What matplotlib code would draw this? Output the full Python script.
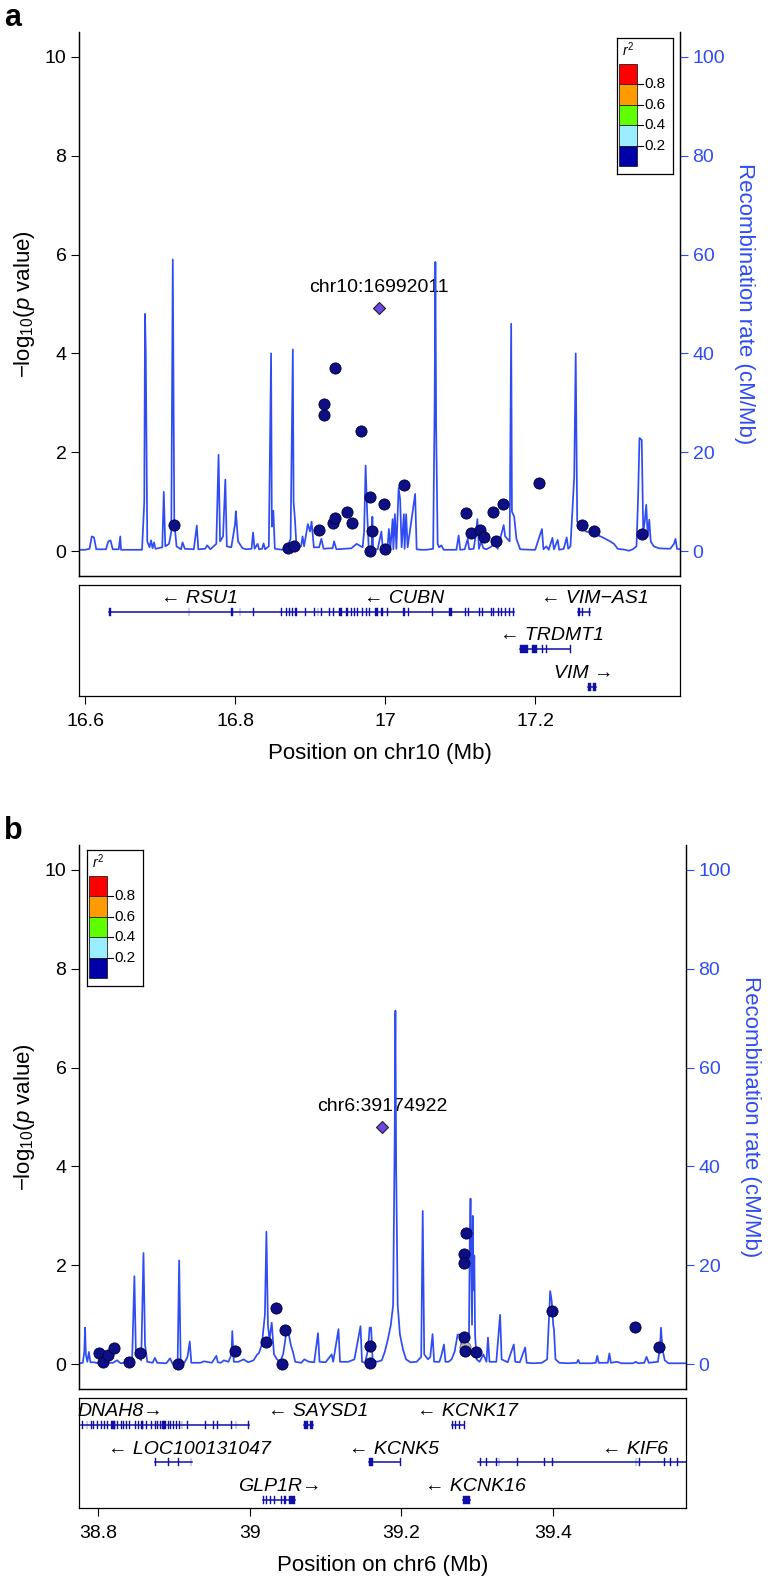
import matplotlib
matplotlib.use('Agg')
import matplotlib.pyplot as plt

plt.rcParams['font.family'] = ['Liberation Sans', 'DejaVu Sans']
plt.rcParams['mathtext.fontset'] = 'custom'
plt.rcParams['mathtext.rm'] = 'Liberation Sans'
plt.rcParams['mathtext.it'] = 'Liberation Sans:italic'

W, H = 776, 1587
REC_BLUE = '#2F4CF2'
GENE_BLUE = '#1010A8'
POINT_BLUE = '#0F0F85'
LEAD_PURPLE = '#6E46E4'

# ---------------- panel a : chr10 ----------------
rec_a_pos = [16.592, 16.600, 16.606, 16.609, 16.612, 16.615, 16.628, 16.631, 16.634, 16.637,
             16.645, 16.647, 16.648, 16.676, 16.679, 16.680, 16.681, 16.683, 16.686, 16.688,
             16.690, 16.692, 16.694, 16.703, 16.705, 16.707, 16.712, 16.715, 16.717, 16.719,
             16.722, 16.728, 16.730, 16.733, 16.745, 16.749, 16.751, 16.760, 16.763, 16.767,
             16.775, 16.778, 16.780, 16.784, 16.787, 16.789, 16.795, 16.800, 16.801, 16.804,
             16.810, 16.815, 16.822, 16.824, 16.826, 16.830, 16.832, 16.836, 16.838, 16.840,
             16.845, 16.848, 16.849, 16.851, 16.853, 16.863, 16.870, 16.874, 16.877, 16.878,
             16.880, 16.882, 16.888, 16.890, 16.892, 16.897, 16.900, 16.902, 16.905, 16.912,
             16.915, 16.918, 16.925, 16.930, 16.932, 16.935, 16.945, 16.955, 16.962, 16.970,
             16.972, 16.974, 16.976, 16.978, 16.982, 16.983, 16.984, 16.990, 16.995, 16.997,
             17.003, 17.005, 17.007, 17.010, 17.011, 17.013, 17.015, 17.018, 17.020, 17.022,
             17.025, 17.026, 17.028, 17.030, 17.040, 17.042, 17.048, 17.055, 17.064, 17.066,
             17.067, 17.068, 17.070, 17.072, 17.075, 17.078, 17.095, 17.098, 17.100, 17.106,
             17.110, 17.112, 17.118, 17.121, 17.123, 17.125, 17.128, 17.131, 17.135, 17.140,
             17.146, 17.150, 17.158, 17.160, 17.166, 17.168, 17.169, 17.172, 17.175, 17.180,
             17.195, 17.200, 17.209, 17.211, 17.215, 17.218, 17.223, 17.225, 17.230, 17.232,
             17.238, 17.242, 17.244, 17.247, 17.252, 17.254, 17.256, 17.260, 17.263, 17.268,
             17.280, 17.290, 17.300, 17.305, 17.310, 17.320, 17.325, 17.330, 17.335, 17.337,
             17.339, 17.342, 17.344, 17.346, 17.348, 17.350, 17.352, 17.354, 17.358, 17.365,
             17.380, 17.385, 17.387, 17.389, 17.393]
rec_a_rate = [0.3, 0.3, 0.5, 3.0, 2.8, 0.4, 0.4, 2.0, 2.2, 0.4,
              0.4, 3.0, 0.3, 0.3, 10.0, 48.0, 40.0, 2.0, 0.8, 2.2,
              0.6, 1.8, 0.5, 0.8, 12.0, 1.0, 1.5, 4.0, 59.0, 6.0,
              1.0, 0.4, 1.8, 0.5, 0.4, 5.2, 0.4, 0.5, 1.2, 0.4,
              1.5, 19.5, 2.0, 3.0, 14.5, 1.0, 0.8, 5.5, 8.1, 2.0,
              0.6, 0.4, 0.5, 3.8, 0.5, 1.5, 0.4, 0.5, 1.6, 0.4,
              1.0, 40.0, 5.0, 8.2, 0.5, 0.3, 1.0, 2.5, 40.8, 10.0,
              6.0, 0.5, 1.0, 3.0, 1.0, 5.5, 4.0, 6.0, 0.8, 0.8,
              2.5, 0.5, 0.6, 0.6, 2.0, 0.4, 0.5, 0.6, 1.5, 0.8,
              4.0, 17.3, 8.0, 1.0, 0.6, 7.0, 0.4, 0.4, 4.0, 0.4,
              0.5, 4.5, 0.5, 6.5, 0.4, 7.5, 0.5, 12.8, 10.5, 0.8,
              7.5, 0.5, 7.5, 0.8, 11.6, 0.4, 0.3, 0.3, 0.5, 30.0,
              58.5, 25.0, 1.5, 0.8, 1.2, 0.3, 0.3, 3.2, 0.3, 0.4,
              2.5, 0.4, 0.5, 3.5, 6.5, 0.5, 2.0, 0.6, 0.4, 0.8,
              1.5, 0.5, 5.3, 3.0, 2.0, 46.0, 8.0, 7.0, 2.5, 0.4,
              0.3, 0.3, 4.5, 0.4, 1.0, 0.3, 2.7, 0.4, 2.3, 0.3,
              0.5, 2.8, 0.5, 1.0, 15.0, 40.0, 6.0, 5.5, 4.5, 4.0,
              3.5, 2.8, 2.0, 1.5, 0.5, 0.3, 0.1, 0.4, 1.0, 10.0,
              22.9, 22.5, 4.0, 6.0, 9.4, 3.0, 6.4, 2.0, 1.0, 0.6,
              0.5, 1.5, 2.5, 0.5, 0.4]

snp_a_pos = [16.719, 16.870, 16.878, 16.912, 16.919, 16.919, 16.930, 16.933, 16.933, 16.949,
             16.956, 16.968, 16.980, 16.982, 16.980, 16.998, 17.000, 17.025, 17.108, 17.114,
             17.127, 17.132, 17.144, 17.148, 17.157, 17.205, 17.262, 17.278, 17.343]
snp_a_p = [0.54, 0.07, 0.10, 0.44, 2.98, 2.75, 0.57, 3.70, 0.67, 0.80,
           0.57, 2.44, 1.09, 0.41, 0.0, 0.96, 0.05, 1.33, 0.77, 0.37,
           0.44, 0.29, 0.79, 0.21, 0.95, 1.38, 0.53, 0.42, 0.34]
lead_a = (16.992, 4.92, 'chr10:16992011')

genes_a_label = ['\u2190 RSU1', '\u2190 CUBN', '\u2190 VIM\u2212AS1', '\u2190 TRDMT1', 'VIM \u2192']
genes_a_label_x = [16.752, 17.025, 17.279, 17.222, 17.265]
genes_a_row = [0, 0, 0, 1, 2]
genes_a_start = [16.632, 16.861, 17.257, 17.180, 17.271]
genes_a_end = [16.861, 17.172, 17.273, 17.246, 17.281]
genes_a_exons = [
    [(16.632, 16.634), (16.738, 16.738), (16.795, 16.797), (16.806, 16.806), (16.824, 16.824)],
    [(16.861, 16.861), (16.868, 16.869), (16.872, 16.872), (16.876, 16.876), (16.880, 16.882),
     (16.893, 16.893), (16.905, 16.905), (16.910, 16.910), (16.915, 16.915), (16.925, 16.926),
     (16.931, 16.931), (16.938, 16.943), (16.948, 16.950), (16.955, 16.955), (16.958, 16.958),
     (16.963, 16.964), (16.969, 16.969), (16.975, 16.976), (16.979, 16.979), (16.987, 16.991),
     (16.994, 16.997), (17.002, 17.002), (17.024, 17.026), (17.030, 17.030), (17.062, 17.062),
     (17.085, 17.089), (17.106, 17.106), (17.111, 17.111), (17.125, 17.125), (17.129, 17.130),
     (17.141, 17.141), (17.144, 17.145), (17.150, 17.150), (17.155, 17.156), (17.160, 17.160),
     (17.165, 17.165), (17.171, 17.172)],
    [(17.257, 17.260), (17.262, 17.263), (17.272, 17.273)],
    [(17.180, 17.190), (17.196, 17.203), (17.209, 17.209), (17.215, 17.215), (17.246, 17.246)],
    [(17.271, 17.275), (17.277, 17.281)],
]

# ---------------- panel b : chr6 ----------------
rec_b_pos = [38.775, 38.780, 38.782, 38.783, 38.784, 38.786, 38.788, 38.790, 38.795, 38.800,
             38.812, 38.820, 38.825, 38.830, 38.838, 38.845, 38.848, 38.850, 38.857, 38.860,
             38.862, 38.865, 38.872, 38.875, 38.878, 38.890, 38.895, 38.898, 38.905, 38.907,
             38.909, 38.914, 38.918, 38.921, 38.923, 38.935, 38.940, 38.950, 38.956, 38.958,
             38.962, 38.966, 38.972, 38.976, 38.977, 38.979, 38.985, 38.992, 38.998, 39.005,
             39.010, 39.012, 39.016, 39.020, 39.022, 39.024, 39.026, 39.029, 39.032, 39.036,
             39.040, 39.044, 39.046, 39.049, 39.051, 39.054, 39.057, 39.060, 39.068, 39.072,
             39.078, 39.085, 39.090, 39.092, 39.100, 39.108, 39.110, 39.117, 39.119, 39.125,
             39.130, 39.138, 39.146, 39.148, 39.152, 39.156, 39.158, 39.160, 39.162, 39.168,
             39.174, 39.178, 39.182, 39.186, 39.189, 39.191, 39.192, 39.193, 39.195, 39.198,
             39.202, 39.206, 39.212, 39.220, 39.226, 39.228, 39.230, 39.235, 39.238, 39.241,
             39.243, 39.250, 39.253, 39.256, 39.258, 39.262, 39.266, 39.270, 39.274, 39.277,
             39.280, 39.283, 39.286, 39.289, 39.290, 39.291, 39.292, 39.293, 39.294, 39.295,
             39.296, 39.297, 39.299, 39.303, 39.308, 39.312, 39.314, 39.316, 39.325, 39.330,
             39.332, 39.340, 39.348, 39.350, 39.356, 39.363, 39.365, 39.375, 39.385, 39.392,
             39.396, 39.398, 39.400, 39.401, 39.403, 39.408, 39.420, 39.431, 39.433, 39.435,
             39.450, 39.456, 39.458, 39.460, 39.472, 39.474, 39.476, 39.484, 39.490, 39.505,
             39.509, 39.512, 39.520, 39.523, 39.526, 39.538, 39.541, 39.542, 39.544, 39.547,
             39.552, 39.575]
rec_b_rate = [0.2, 0.3, 2.5, 7.4, 2.0, 0.5, 2.5, 0.4, 0.4, 0.2,
              0.3, 0.3, 0.8, 0.2, 0.4, 0.8, 17.8, 2.0, 0.8, 22.5,
              4.0, 0.5, 0.3, 1.3, 0.3, 0.2, 1.2, 0.2, 0.2, 21.0,
              0.5, 0.3, 1.5, 4.6, 0.3, 0.3, 0.6, 0.3, 1.7, 0.4,
              0.3, 0.8, 0.5, 2.0, 6.7, 0.5, 0.5, 1.0, 0.4, 0.8,
              2.0, 2.2, 4.0, 10.0, 26.8, 8.0, 5.0, 8.4, 2.0, 1.0,
              0.5, 2.0, 4.0, 7.4, 6.5, 4.0, 2.5, 0.5, 0.3, 1.0,
              0.5, 0.4, 6.3, 0.5, 0.4, 2.0, 0.5, 7.1, 0.5, 0.5,
              0.5, 1.0, 7.7, 0.5, 0.3, 3.0, 7.4, 7.4, 0.8, 0.5,
              0.8, 2.5, 5.0, 8.0, 12.0, 45.0, 71.5, 40.0, 12.0, 6.0,
              3.0, 1.0, 0.4, 0.5, 1.5, 31.0, 2.0, 1.0, 1.5, 6.1,
              0.5, 0.5, 2.0, 4.0, 0.5, 0.5, 1.0, 2.5, 6.0, 6.0,
              3.0, 4.0, 2.0, 6.0, 25.0, 33.5, 20.0, 8.0, 30.0, 15.0,
              22.0, 6.0, 1.0, 0.5, 2.0, 0.5, 5.4, 0.5, 0.5, 10.0,
              1.0, 0.4, 4.0, 0.5, 0.4, 3.4, 0.3, 0.2, 0.3, 1.0,
              14.8, 12.8, 8.0, 7.0, 1.0, 0.3, 0.2, 0.3, 0.9, 0.2,
              0.2, 0.3, 1.7, 0.3, 0.3, 2.2, 0.3, 0.5, 0.2, 0.2,
              0.5, 0.2, 0.3, 1.5, 0.3, 0.5, 4.0, 7.4, 3.0, 0.8,
              0.2, 0.2]

snp_b_pos = [38.801, 38.806, 38.813, 38.821, 38.841, 38.855, 38.906, 38.980, 39.021, 39.035,
             39.046, 39.042, 39.159, 39.159, 39.285, 39.282, 39.283, 39.282, 39.284, 39.298,
             39.399, 39.508, 39.539]
snp_b_p = [0.22, 0.05, 0.18, 0.32, 0.05, 0.22, 0.0, 0.26, 0.45, 1.14,
           0.69, 0.0, 0.36, 0.03, 2.65, 2.22, 2.05, 0.56, 0.26, 0.24,
           1.08, 0.76, 0.35]
grey_b_pos = [39.284]
grey_b_p = [0.35]
lead_b = (39.175, 4.80, 'chr6:39174922')

genes_b_label = ['DNAH8\u2192', '\u2190 SAYSD1', '\u2190 KCNK17', '\u2190 LOC100131047',
                 '\u2190 KCNK5', '\u2190 KIF6', 'GLP1R\u2192', '\u2190 KCNK16']
genes_b_label_x = [38.830, 39.090, 39.287, 38.920, 39.190, 39.508, 39.040, 39.298]
genes_b_row = [0, 0, 0, 1, 1, 1, 2, 2]
genes_b_start = [38.777, 39.072, 39.266, 38.875, 39.157, 39.301, 39.017, 39.281]
genes_b_end = [38.999, 39.084, 39.283, 38.924, 39.198, 39.600, 39.060, 39.290]
dnah8_ex = [38.7795, 38.7850, 38.7903, 38.7940, 38.7983, 38.8037, 38.8080, 38.8118, 38.8172,
            38.8209, 38.8252, 38.8306, 38.8333, 38.8371, 38.8414, 38.8494, 38.8532, 38.8575,
            38.8629, 38.8694, 38.8747, 38.8780, 38.8817, 38.8855, 38.8887, 38.8925, 38.8951,
            38.8994, 38.9032, 38.9070, 38.9102, 38.9178, 38.9409, 38.9517, 38.9571, 38.9759,
            38.9813, 38.9974]
genes_b_exons = [
    [(p, p) for p in dnah8_ex] + [(38.818, 38.822), (38.857, 38.860), (38.884, 38.889)],
    [(39.072, 39.077), (39.079, 39.084)],
    [(39.2665, 39.2665), (39.2708, 39.2708), (39.2762, 39.2762), (39.2827, 39.2827)],
    [(38.8747, 38.8747), (38.8925, 38.8940), (38.906, 38.906), (38.922, 38.922)],
    [(39.157, 39.162), (39.198, 39.198)],
    [(39.3031, 39.3031), (39.3110, 39.3125), (39.3247, 39.3247), (39.3280, 39.3285),
     (39.3525, 39.3525), (39.3874, 39.3874), (39.3982, 39.3982), (39.5085, 39.5085),
     (39.5128, 39.5128), (39.5462, 39.5462), (39.5543, 39.5543), (39.5634, 39.5634)],
    [(39.0174, 39.0174), (39.0219, 39.0219), (39.0273, 39.0273), (39.0326, 39.0326),
     (39.0407, 39.0407), (39.0449, 39.0480), (39.0520, 39.0594)],
    [(39.2816, 39.2897)],
]

r2_colors = ['#FF0000', '#FF9B00', '#5FFF00', '#9BEEFF', '#0000A8']
r2_ticks = [0.8, 0.6, 0.4, 0.2]


def box(l, t, r, b):
    return [l / W, 1 - b / H, (r - l) / W, (b - t) / H]


def draw_legend(rect):
    lg = fig.add_axes(box(*rect))
    lg.set_xlim(0, 56)
    lg.set_ylim(136, 0)
    lg.set_xticks([])
    lg.set_yticks([])
    for s in lg.spines.values():
        s.set_linewidth(0.9)
    seg = 102 / len(r2_colors)
    for i, c in enumerate(r2_colors):
        lg.bar(11, seg, width=18, bottom=26 + i * seg, color=c, edgecolor='#202020', linewidth=0.6)
    for i, t in enumerate(r2_ticks):
        yy = 26 + (i + 1) * seg
        lg.plot([20, 26], [yy, yy], color='black', lw=0.8)
        lg.text(27.5, yy, '%.1f' % t, ha='left', va='center', fontsize=11)
    lg.text(11, 12, '$r^2$', ha='center', va='center', fontsize=10)


def draw_panel(main_rect, gene_rect, leg_rect, xlim, rec_pos, rec_rate, snp_pos, snp_p,
               lead, g_label, g_lx, g_row, g_start, g_end, g_exons, xticks, xlabel, tag,
               grey=None):
    ax = fig.add_axes(box(*main_rect))
    ax2 = ax.twinx()
    ax2.plot(rec_pos, rec_rate, color=REC_BLUE, lw=1.25, zorder=3)
    ax2.text(lead[0], lead[1] + 0.42, lead[2], transform=ax.transData, ha='center',
             va='center', fontsize=14, zorder=1)
    ax.set_zorder(ax2.get_zorder() + 1)
    ax.patch.set_visible(False)
    if grey is not None:
        ax.scatter(grey[0], grey[1], s=65, c='#B8B8B8', edgecolors='#707070',
                   linewidths=0.6, zorder=3)
    ax.scatter(snp_pos, snp_p, s=65, c=POINT_BLUE, edgecolors='#00003A', linewidths=0.6,
               zorder=4)
    ax.plot(lead[0], lead[1], marker='D', ms=6, mfc=LEAD_PURPLE, mec='#202020', mew=0.8,
            zorder=5)
    ax.set_xlim(*xlim)
    ax.set_ylim(-0.5, 10.5)
    ax2.set_ylim(-5, 105)
    ax.set_xticks([])
    ax.set_yticks([0, 2, 4, 6, 8, 10])
    ax2.set_yticks([0, 20, 40, 60, 80, 100])
    for a in (ax, ax2):
        a.spines['top'].set_visible(False)
        for s in a.spines.values():
            s.set_linewidth(0.9)
    ax.tick_params(axis='y', length=6, width=0.8, labelsize=14, pad=3)
    ax2.tick_params(axis='y', length=6, width=0.8, labelsize=14, pad=3, colors=REC_BLUE)
    ax2.spines['right'].set_color('#202020')

    l, t, r, b = main_rect
    fig.text(25 / W, 1 - (t + b) / 2 / H, '\u2212log$_{10}$($p$ value)', rotation=90,
             ha='center', va='center', fontsize=16)
    fig.text((r + 64) / W, 1 - (t + b) / 2 / H, 'Recombination rate (cM/Mb)', rotation=-90,
             ha='center', va='center', fontsize=16, color=REC_BLUE)
    fig.text(13 / W, 1 - (t - 14) / H, tag, ha='center', va='center', fontsize=22,
             fontweight='bold')

    draw_legend(leg_rect)

    g = fig.add_axes(box(*gene_rect))
    g.set_xlim(*xlim)
    g.set_ylim(gene_rect[3] - gene_rect[1], 0)
    g.set_yticks([])
    for s in g.spines.values():
        s.set_linewidth(0.9)
    row_y = [26.5, 64, 101.5]
    for lab, lx, rw, s0, e0, ex in zip(g_label, g_lx, g_row, g_start, g_end, g_exons):
        y = row_y[rw]
        g.plot([s0, e0], [y, y], color=GENE_BLUE, lw=1.1)
        g.broken_barh([(p0, max(p1 - p0, 0.0012)) for p0, p1 in ex], (y - 4, 8),
                      facecolors=GENE_BLUE, edgecolor=GENE_BLUE, linewidth=0.3)
        g.text(lx, y - 13, lab, ha='center', va='center', fontsize=14, style='italic')
    g.set_xticks(xticks)
    g.set_xticklabels(['%g' % v for v in xticks])
    g.tick_params(axis='x', length=6, width=0.8, labelsize=14, pad=6)
    gl, gt, gr, gb = gene_rect
    fig.text((gl + gr) / 2 / W, 1 - (gb + 57) / H, xlabel, ha='center', va='center',
             fontsize=16)


fig = plt.figure(figsize=(W / 100, H / 100), dpi=100)

draw_panel((79, 32, 680, 576), (79, 585, 680, 696), (617, 38, 673, 174), (16.592, 17.393),
           rec_a_pos, rec_a_rate, snp_a_pos, snp_a_p, lead_a,
           genes_a_label, genes_a_label_x, genes_a_row, genes_a_start, genes_a_end,
           genes_a_exons, [16.6, 16.8, 17.0, 17.2], 'Position on chr10 (Mb)', 'a')

draw_panel((79, 845, 686, 1389), (79, 1398, 686, 1508), (87, 850, 143, 986), (38.775, 39.575),
           rec_b_pos, rec_b_rate, snp_b_pos, snp_b_p, lead_b,
           genes_b_label, genes_b_label_x, genes_b_row, genes_b_start, genes_b_end,
           genes_b_exons, [38.8, 39.0, 39.2, 39.4], 'Position on chr6 (Mb)', 'b',
           grey=(grey_b_pos, grey_b_p))

fig.savefig('out.png', dpi=100)
